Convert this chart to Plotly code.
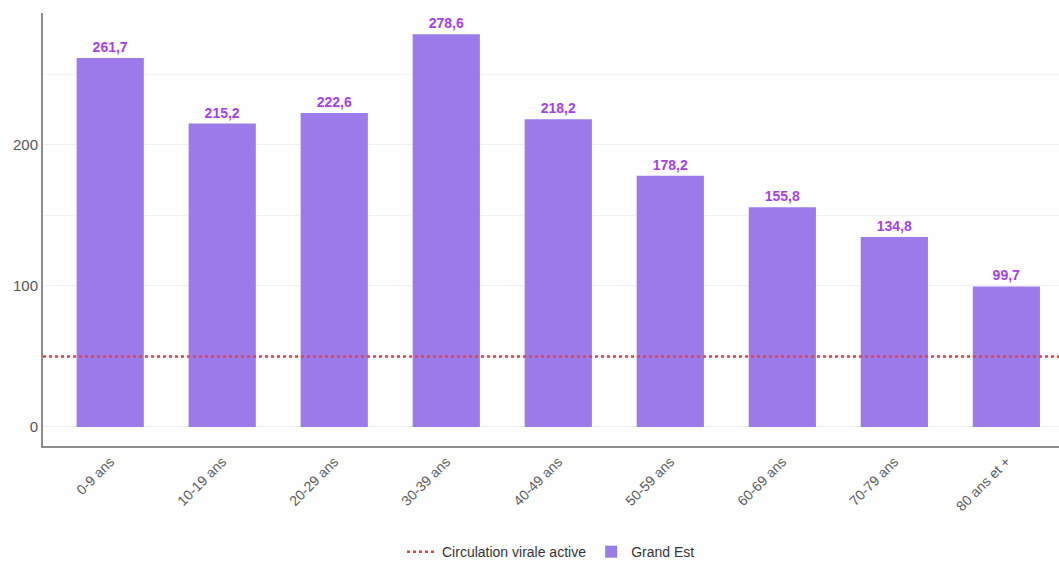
import plotly.graph_objects as go

categories = ["0-9 ans", "10-19 ans", "20-29 ans", "30-39 ans", "40-49 ans",
              "50-59 ans", "60-69 ans", "70-79 ans", "80 ans et +"]
values = [261.7, 215.2, 222.6, 278.6, 218.2, 178.2, 155.8, 134.8, 99.7]
labels = ["261,7", "215,2", "222,6", "278,6", "218,2", "178,2", "155,8", "134,8", "99,7"]
threshold = 50

fig = go.Figure()
fig.add_trace(go.Scatter(
    x=[-0.6, 8.47], y=[threshold, threshold], mode="lines",
    line=dict(color="#f03c3c", width=2.5, dash="dot"),
    name="Circulation virale active", xaxis="x2", showlegend=True,
))
fig.add_trace(go.Bar(
    x=list(range(len(categories))), y=values, name="Grand Est",
    marker=dict(color="#9b7aea", line=dict(width=0)), width=0.6,
    text=["<b>" + t + "</b>" for t in labels], textposition="outside", cliponaxis=False,
    textfont=dict(color="#a63ff0", size=14, family="Liberation Sans, Arial"),
))

fig.update_layout(
    width=1059, height=562,
    margin=dict(l=43, r=0, t=13, b=116, autoexpand=False),
    plot_bgcolor="white", paper_bgcolor="white",
    font=dict(family="Liberation Sans, Arial, sans-serif", color="#555555", size=13),
    showlegend=True,
    legend=dict(orientation="h", x=0.5, xanchor="center", y=-0.245, yanchor="middle",
                font=dict(size=14, color="#333333"), traceorder="normal"),
    xaxis=dict(
        range=[-0.6, 8.47], tickmode="array", tickvals=list(range(len(categories))),
        ticktext=categories, tickangle=-45, showgrid=False, zeroline=False,
        showline=True, linecolor="#8c8c8c", linewidth=2, ticks="", automargin=False,
        tickfont=dict(size=14, color="#5a5a5a"),
    ),
    xaxis2=dict(range=[-0.6, 8.47], overlaying="x", visible=False),
    yaxis=dict(
        range=[-13.5, 293.6], tickvals=[0, 100, 200], showgrid=True,
        gridcolor="#f0f0f0", gridwidth=1, zeroline=False, automargin=False,
        showline=True, linecolor="#8c8c8c", linewidth=2, ticks="",
        tickfont=dict(size=15, color="#555555"),
        minor=dict(dtick=50, showgrid=True, gridcolor="#f3f3f3", gridwidth=1, tick0=0),
    ),
)
fig.write_html(
    "out.html",
    config={"displayModeBar": False},
    post_script="document.body.style.margin='0';document.body.style.overflow='hidden';",
)
